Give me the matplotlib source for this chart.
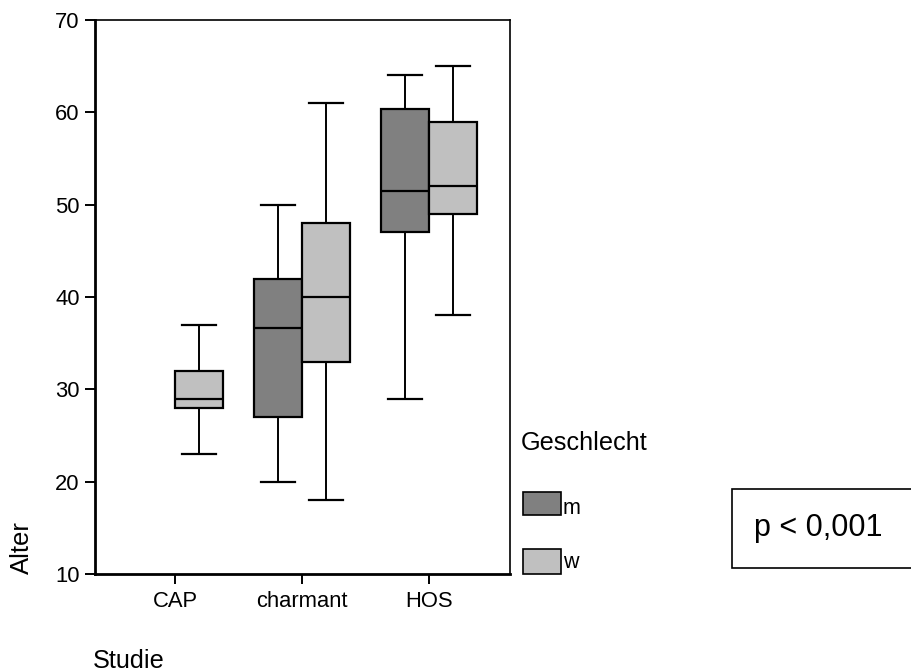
import matplotlib
matplotlib.use("Agg")
import matplotlib.pyplot as plt
from matplotlib.patches import Rectangle

plt.rcParams['font.family'] = ['Liberation Sans', 'DejaVu Sans']

categories = ["CAP", "charmant", "HOS"]
groups = ["m", "w"]
# per group: list per category of (whislo, q1, med, q3, whishi) or None
stats_m = [None, (20, 27, 36.6, 42, 50), (29, 47, 51.5, 60.4, 64)]
stats_w = [(23, 28, 29, 32, 37), (18, 33, 40, 48, 61), (38, 49, 52, 59, 65)]
colors = {"m": "#808080", "w": "#c0c0c0"}
yticks = [10, 20, 30, 40, 50, 60, 70]

fig = plt.figure(figsize=(9.12, 6.72), dpi=100)
ax = fig.add_axes([95/912, 1-574/672, 415/912, 554/672])

bw = 0.378
for gi, (g, st) in enumerate(zip(groups, [stats_m, stats_w])):
    off = -bw/2 if g == "m" else bw/2
    for ci, s in enumerate(st):
        if s is None:
            continue
        d = dict(whislo=s[0], q1=s[1], med=s[2], q3=s[3], whishi=s[4], fliers=[])
        ax.bxp([d], positions=[ci + 1 + off], widths=bw, capwidths=0.27,
               patch_artist=True, showfliers=False,
               boxprops=dict(facecolor=colors[g], edgecolor='black', linewidth=1.6),
               medianprops=dict(color='black', linewidth=1.6),
               whiskerprops=dict(color='black', linewidth=1.4),
               capprops=dict(color='black', linewidth=1.6))

ax.set_xlim(0.37, 3.64)
ax.set_ylim(10, 70)
ax.set_xticks([1, 2, 3])
ax.set_xticklabels(categories)
ax.set_yticks(yticks)
ax.tick_params(axis='both', direction='out', length=7, width=1.4, labelsize=15.8, pad=4)
ax.tick_params(axis='x', pad=5)
for side in ['left', 'bottom']:
    ax.spines[side].set_linewidth(2)
for side in ['top', 'right']:
    ax.spines[side].set_linewidth(1.2)

fig.text(22/912, 1-548/672, "Alter", rotation=90, ha='center', va='center', fontsize=18.5)
fig.text(93/912, 1-668/672, "Studie", ha='left', va='baseline', fontsize=18.2)

fig.text(521/912, 1-443/672, "Geschlecht", ha='left', va='center', fontsize=18.2)
for g, py0, py1, lab, ly in [("m", 492, 515, "m", 508), ("w", 549, 574, "w", 563)]:
    fig.add_artist(Rectangle((523/912, 1-py1/672), 38/912, (py1-py0)/672,
                             transform=fig.transFigure, facecolor=colors[g],
                             edgecolor='black', linewidth=1.2))
    fig.text(563/912, 1-ly/672, lab, ha='left', va='center', fontsize=15.5)

fig.add_artist(Rectangle((732/912, 1-568/672), 200/912, 79/672,
                         transform=fig.transFigure, facecolor='white',
                         edgecolor='black', linewidth=1.2, clip_on=False))
fig.text(754/912, 1-528/672, "p < 0,001", ha='left', va='center', fontsize=22)

fig.savefig("out.png", dpi=100)
